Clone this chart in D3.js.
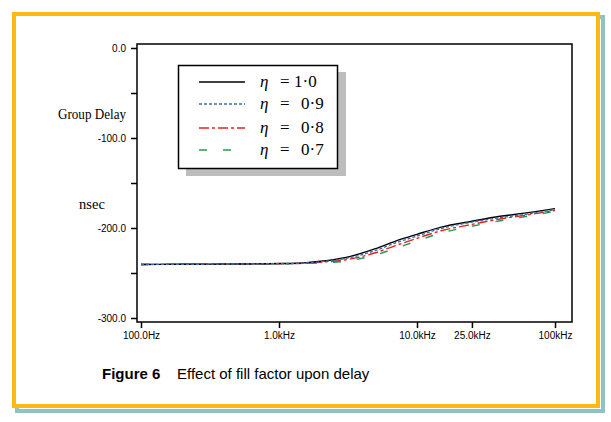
<!DOCTYPE html>
<html><head><meta charset="utf-8">
<script src="https://cdn.jsdelivr.net/npm/d3@7"></script>
<style>body{margin:0;background:#fff}svg{display:block}</style>
</head><body>
<script>
const freqs = [100, 200, 500, 1000, 1500, 2000, 3000, 5000, 7000, 10000, 15000, 25000, 40000, 60000, 100000];
const eta10 = [-240.5, -240.3, -240, -239.5, -238.8, -237, -233, -223, -214.5, -207, -199, -192.5, -187, -183.5, -178.5];
const eta09 = [-240.5, -240.3, -240, -239.6, -239, -237.5, -234, -225, -216.5, -209, -200.5, -193.5, -188.5, -185, -179.5];
const eta08 = [-240.5, -240.3, -240, -239.7, -239.2, -238, -235.5, -227.5, -219.5, -211.5, -203, -196, -190, -186, -180.5];
const eta07 = [-240.5, -240.3, -240.1, -239.8, -239.5, -238.8, -237, -230, -222.5, -214.5, -205.5, -198, -192, -187.5, -181.5];
const seriesNames = ["1·0", "0·9", "0·8", "0·7"];
const xTicks = [100, 1000, 10000, 25000, 100000];
const xTickLabels = ["100.0Hz", "1.0kHz", "10.0kHz", "25.0kHz", "100kHz"];
const yTicks = [0, -50, -100, -150, -200, -250, -300];
const yTickLabels = ["0.0", "", "-100.0", "", "-200.0", "", "-300.0"];

const W = 611, H = 422;
const svg = d3.select("body").append("svg").attr("width", W).attr("height", H);

// frame with shadow
svg.append("rect").attr("x", 17).attr("y", 17).attr("width", 586).attr("height", 394)
  .attr("fill", "none").attr("stroke", "#8fc3bf").attr("stroke-width", 4);
svg.append("rect").attr("x", 14).attr("y", 14).attr("width", 584).attr("height", 392)
  .attr("fill", "#fff").attr("stroke", "#fdb913").attr("stroke-width", 4);

const x = d3.scaleLog().domain([100, 100000]).range([141, 555]);
const y = d3.scaleLinear().domain([0, -300]).range([48, 318]);

// plot frame
svg.append("rect").attr("x", 137).attr("y", 44).attr("width", 435).attr("height", 278)
  .attr("fill", "none").attr("stroke", "#000").attr("stroke-width", 1.5);

const xAxis = d3.axisBottom(x).tickValues(xTicks)
  .tickFormat((d, i) => xTickLabels[i]).tickSize(6).tickPadding(4);
const gx = svg.append("g").attr("transform", "translate(0,322)").call(xAxis);
gx.select(".domain").remove();
gx.selectAll("line").attr("stroke-width", 1.5);
gx.selectAll("text").attr("font-family", "'Liberation Sans', Arial, sans-serif").attr("font-size", 10).attr("fill", "#000");

const yAxis = d3.axisLeft(y).tickValues(yTicks)
  .tickFormat((d, i) => yTickLabels[i]).tickSize(6).tickPadding(5);
const gy = svg.append("g").attr("transform", "translate(137,0)").call(yAxis);
gy.select(".domain").remove();
gy.selectAll("line").attr("stroke-width", 1.5);
gy.selectAll("text").attr("font-family", "'Liberation Sans', Arial, sans-serif").attr("font-size", 10).attr("fill", "#000");

// axis titles
svg.append("text").attr("x", 92).attr("y", 119).attr("text-anchor", "middle")
  .attr("font-family", "'Liberation Serif', 'Times New Roman', serif").attr("font-size", 14.5)
  .attr("textLength", 68).attr("lengthAdjust", "spacingAndGlyphs").text("Group Delay");
svg.append("text").attr("x", 92).attr("y", 209).attr("text-anchor", "middle")
  .attr("font-family", "'Liberation Serif', 'Times New Roman', serif").attr("font-size", 14.5).text("nsec");

const styles = [
  {c: "#000000", dash: null},
  {c: "#3b6ea8", dash: "3,2"},
  {c: "#e3231f", dash: "10,3,3,3"},
  {c: "#1f9a57", dash: "8,16"}
];
const seriesData = [eta10, eta09, eta08, eta07];
const line = d3.line().x(d => x(d[0])).y(d => y(d[1])).curve(d3.curveMonotoneX);

const order = [3, 2, 0, 1];
order.forEach(i => {
  svg.append("path").datum(freqs.map((f, j) => [f, seriesData[i][j]]))
    .attr("d", line).attr("fill", "none").attr("stroke", styles[i].c)
    .attr("stroke-width", 1.4).attr("stroke-dasharray", styles[i].dash);
});

// legend
svg.append("rect").attr("x", 186).attr("y", 72).attr("width", 160).attr("height", 104).attr("fill", "#bdbdbd");
svg.append("rect").attr("x", 178.5).attr("y", 65.5).attr("width", 159).attr("height", 103)
  .attr("fill", "#fff").attr("stroke", "#000").attr("stroke-width", 1.5);
const rowsY = [82, 104, 128, 150];
seriesNames.forEach((n, i) => {
  svg.append("line").attr("x1", 199).attr("x2", 245).attr("y1", rowsY[i]).attr("y2", rowsY[i])
    .attr("stroke", styles[i].c).attr("stroke-width", 1.4).attr("stroke-dasharray", styles[i].dash);
  const t = svg.append("text").attr("y", rowsY[i] + 5)
    .attr("font-family", "'Liberation Serif', 'Times New Roman', serif").attr("font-size", 17);
  t.append("tspan").attr("x", 260).attr("font-style", "italic").text("η");
  t.append("tspan").attr("x", 280).text("=");
  t.append("tspan").attr("x", i === 0 ? 294 : 301).text(n);
});

// caption
const cap = svg.append("text").attr("x", 102).attr("y", 379)
  .attr("font-family", "'Liberation Sans', Arial, sans-serif").attr("font-size", 15);
cap.append("tspan").attr("font-weight", "bold").text("Figure 6");
cap.append("tspan").attr("x", 177).text("Effect of fill factor upon delay");
</script>
</body></html>
